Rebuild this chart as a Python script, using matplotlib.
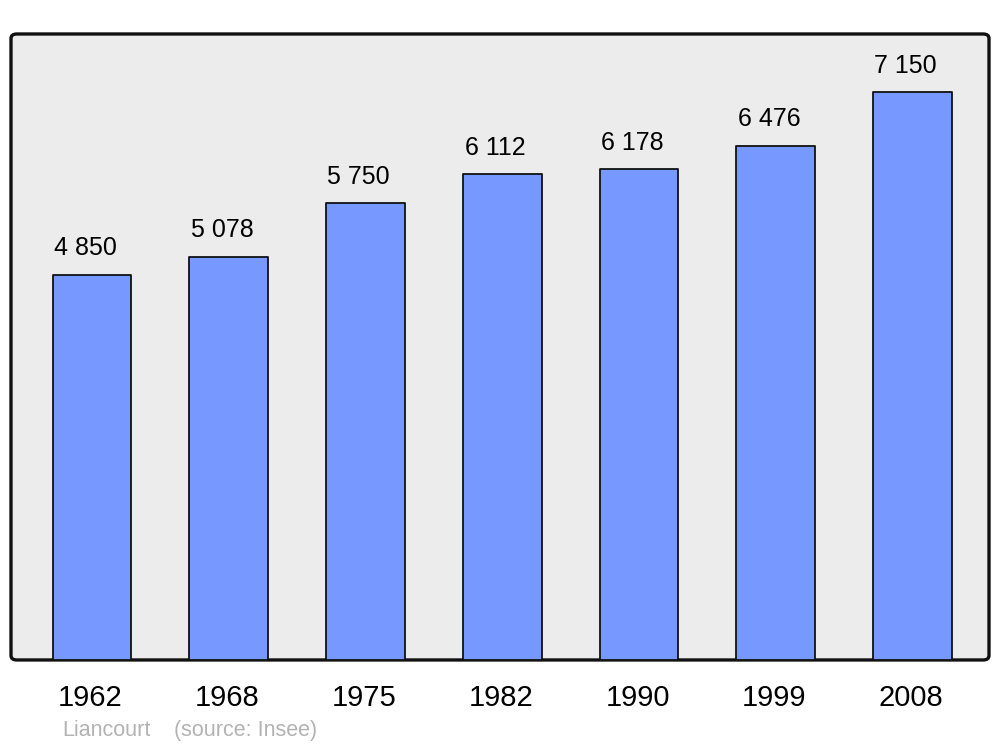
import matplotlib
matplotlib.use("Agg")
import matplotlib.pyplot as plt
from matplotlib.patches import FancyBboxPatch

years = ["1962", "1968", "1975", "1982", "1990", "1999", "2008"]
population = [4850, 5078, 5750, 6112, 6178, 6476, 7150]
labels = ["4 850", "5 078", "5 750", "6 112", "6 178", "6 476", "7 150"]

plt.rcParams['font.family'] = ['Liberation Sans', 'DejaVu Sans']

fig = plt.figure(figsize=(10, 7.47), dpi=100)
ax = fig.add_axes([0.011, 0.1165, 0.978, 0.838])
ax.set_xlim(-0.592, 6.559)
ax.set_ylim(0, 7880)
ax.axis('off')

# background frame
frame = FancyBboxPatch((0, 0), 1, 1, boxstyle="round,pad=0,rounding_size=0.006",
                       transform=ax.transAxes, facecolor="#ececec", edgecolor="#111111",
                       linewidth=2.4, clip_on=False, zorder=0, mutation_aspect=1.2)
ax.add_patch(frame)

x = list(range(len(years)))
bars = ax.bar(x, population, width=0.575, color="#7799ff", edgecolor="#111111",
              linewidth=1.3, zorder=2)
for b in bars:
    b.set_capstyle('round')
    b.set_joinstyle('round')

for xi, v, lab in zip(x, population, labels):
    ax.text(xi - 0.05, v + 330, lab, ha='center', va='center', fontsize=18,
            color='black', zorder=3)

for xi, yr in zip(x, years):
    ax.text(xi - 0.01, -0.061, yr, transform=ax.get_xaxis_transform(), ha='center',
            va='center', fontsize=21, color='black')

fig.text(0.062, 0.0217, "Liancourt", ha='left', va='center', fontsize=15.5, color='#b3b3b3')
fig.text(0.174, 0.0217, "(source: Insee)", ha='left', va='center', fontsize=15.5, color='#b3b3b3')

fig.savefig("out.png", dpi=100, facecolor='white')
